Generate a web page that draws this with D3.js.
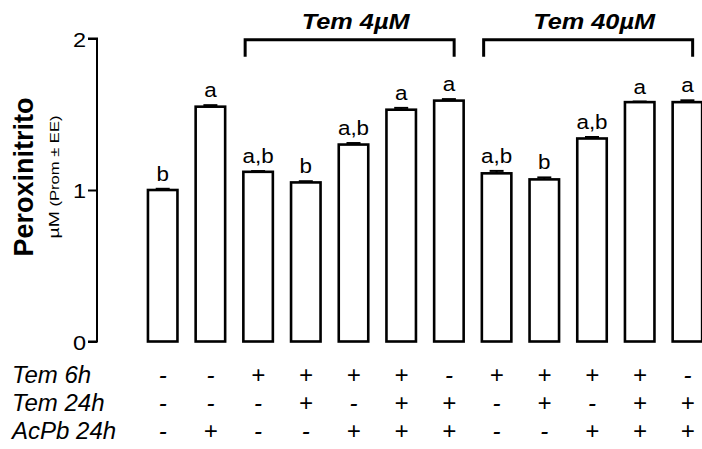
<!DOCTYPE html>
<html>
<head>
<meta charset="utf-8">
<script src="https://cdn.jsdelivr.net/npm/d3@7"></script>
<style>
  html, body { margin: 0; padding: 0; background: #fff; }
  svg { display: block; }
  text { font-family: "Liberation Sans", Arial, Helvetica, sans-serif; fill: #000; }
</style>
</head>
<body>
<svg id="chart" width="702" height="449"></svg>
<script>
// Peroxynitrite levels per treatment group (mean ± SE)
const groups = ["C", "AcPb", "T4-6", "T4-6-24", "T4-6-Pb", "T4-6-24-Pb", "T4-24-Pb",
                "T40-6", "T40-6-24", "T40-6-Pb", "T40-6-24-Pb", "T40-24-Pb"];
const means  = [1.00, 1.55, 1.12, 1.05, 1.30, 1.53, 1.59, 1.11, 1.07, 1.34, 1.58, 1.58];
const errors = [0.008, 0.010, 0.005, 0.008, 0.010, 0.012, 0.010, 0.016, 0.013, 0.010, 0.004, 0.012];
const letters = ["b", "a", "a,b", "b", "a,b", "a", "a", "a,b", "b", "a,b", "a", "a"];

// Treatment design table shown below the bars
const rowLabels = ["Tem 6h", "Tem 24h", "AcPb 24h"];
const tem6h  = ["-", "-", "+", "+", "+", "+", "-", "+", "+", "+", "+", "-"];
const tem24h = ["-", "-", "-", "+", "-", "+", "+", "-", "+", "-", "+", "+"];
const acpb24h = ["-", "+", "-", "-", "+", "+", "+", "-", "-", "+", "+", "+"];

// Dose brackets: label, first and last group index
const bracketLabels = ["Tem 4\u00B5M", "Tem 40\u00B5M"];
const bracketFirst = [2, 7];
const bracketLast  = [6, 11];

const yTicks = [0, 1, 2];

const svg = d3.select("#chart");

const y = d3.scaleLinear().domain([0, 2]).range([341.5, 38.5]);
const x = d3.scaleBand().domain(groups).range([138.85, 711.25])
  .paddingInner(0.3816).paddingOuter(0.1908);

function htext(g, tx, ty, str, size, opts = {}) {
  return g.append("text")
    .attr("transform", `translate(${tx},${ty}) scale(${opts.sx || 1},1)`)
    .attr("text-anchor", opts.anchor || "middle")
    .style("font-size", size + "px")
    .style("font-style", opts.italic ? "italic" : "normal")
    .style("font-weight", opts.bold ? "bold" : "normal")
    .text(str);
}

// Y axis
const yAxis = d3.axisLeft(y).tickValues(yTicks).tickSize(9).tickFormat(d3.format("d"));
const ag = svg.append("g").attr("transform", "translate(97,0)").call(yAxis);
ag.select(".domain").attr("stroke", "#000").attr("stroke-width", 2).attr("d", `M-9,${y(2)}H0V${y(0)}H-9`);
ag.selectAll(".tick line").attr("stroke", "#000").attr("stroke-width", 2);
ag.selectAll(".tick text").remove();
ag.selectAll(".tick").each(function(d) {
  htext(d3.select(this), -11, 7.5, String(d), 21, { anchor: "end", sx: 1.12 });
});

// Y axis titles
svg.append("text")
  .attr("transform", `translate(33,177) rotate(-90)`)
  .attr("text-anchor", "middle")
  .style("font-size", "27px").style("font-weight", "bold")
  .text("Peroxinitrito");
const sub = svg.append("text")
  .attr("transform", `translate(59,177) rotate(-90)`)
  .attr("text-anchor", "middle")
  .attr("textLength", 123).attr("lengthAdjust", "spacingAndGlyphs");
sub.append("tspan").style("font-size", "14px").text("\u00B5M");
sub.append("tspan").style("font-size", "12px").text(" (Prom \u00B1 EE)");

// Bars
const bw = x.bandwidth();
svg.append("g").selectAll("rect").data(groups).join("rect")
  .attr("x", d => x(d))
  .attr("y", (d, i) => y(means[i]))
  .attr("width", bw)
  .attr("height", (d, i) => y(0) - y(means[i]))
  .attr("fill", "#fff").attr("stroke", "#000").attr("stroke-width", 2.6);

// Error bars (upper)
const eg = svg.append("g").attr("stroke", "#000").attr("stroke-width", 2);
groups.forEach((g, i) => {
  const cx = x(g) + bw / 2;
  const top = y(means[i] + errors[i]);
  eg.append("line").attr("x1", cx).attr("x2", cx).attr("y1", y(means[i])).attr("y2", top);
  eg.append("line").attr("x1", cx - 7).attr("x2", cx + 7).attr("y1", top).attr("y2", top);
});

// Significance letters
const lg = svg.append("g");
groups.forEach((g, i) => {
  htext(lg, x(g) + bw / 2, y(means[i] + errors[i]) - 8, letters[i], 19.5, { sx: 1.15 });
});

// Dose brackets
const bg = svg.append("g");
bracketLabels.forEach((lab, k) => {
  const x0 = x(groups[bracketFirst[k]]) + 1.8;
  const x1 = x(groups[bracketLast[k]]) + bw - 9.5;
  const top = y(2) + 1.3;
  bg.append("path")
    .attr("d", `M${x0},${top + 17}V${top}H${x1}V${top + 17}`)
    .attr("fill", "none").attr("stroke", "#000").attr("stroke-width", 3);
  htext(bg, (x0 + x1) / 2 + 6, 28.5, lab, 22, { italic: true, bold: true, sx: 1.15 });
});

// Treatment table
const rows = [tem6h, tem24h, acpb24h];
const rowY = [383, 411, 439];
const tg = svg.append("g");
rows.forEach((r, k) => {
  htext(tg, 12, rowY[k], rowLabels[k], 24, { anchor: "start", italic: true });
  r.forEach((s, i) => {
    htext(tg, x(groups[i]) + bw / 2, rowY[k], s, 24, { italic: true });
  });
});
</script>
</body>
</html>
